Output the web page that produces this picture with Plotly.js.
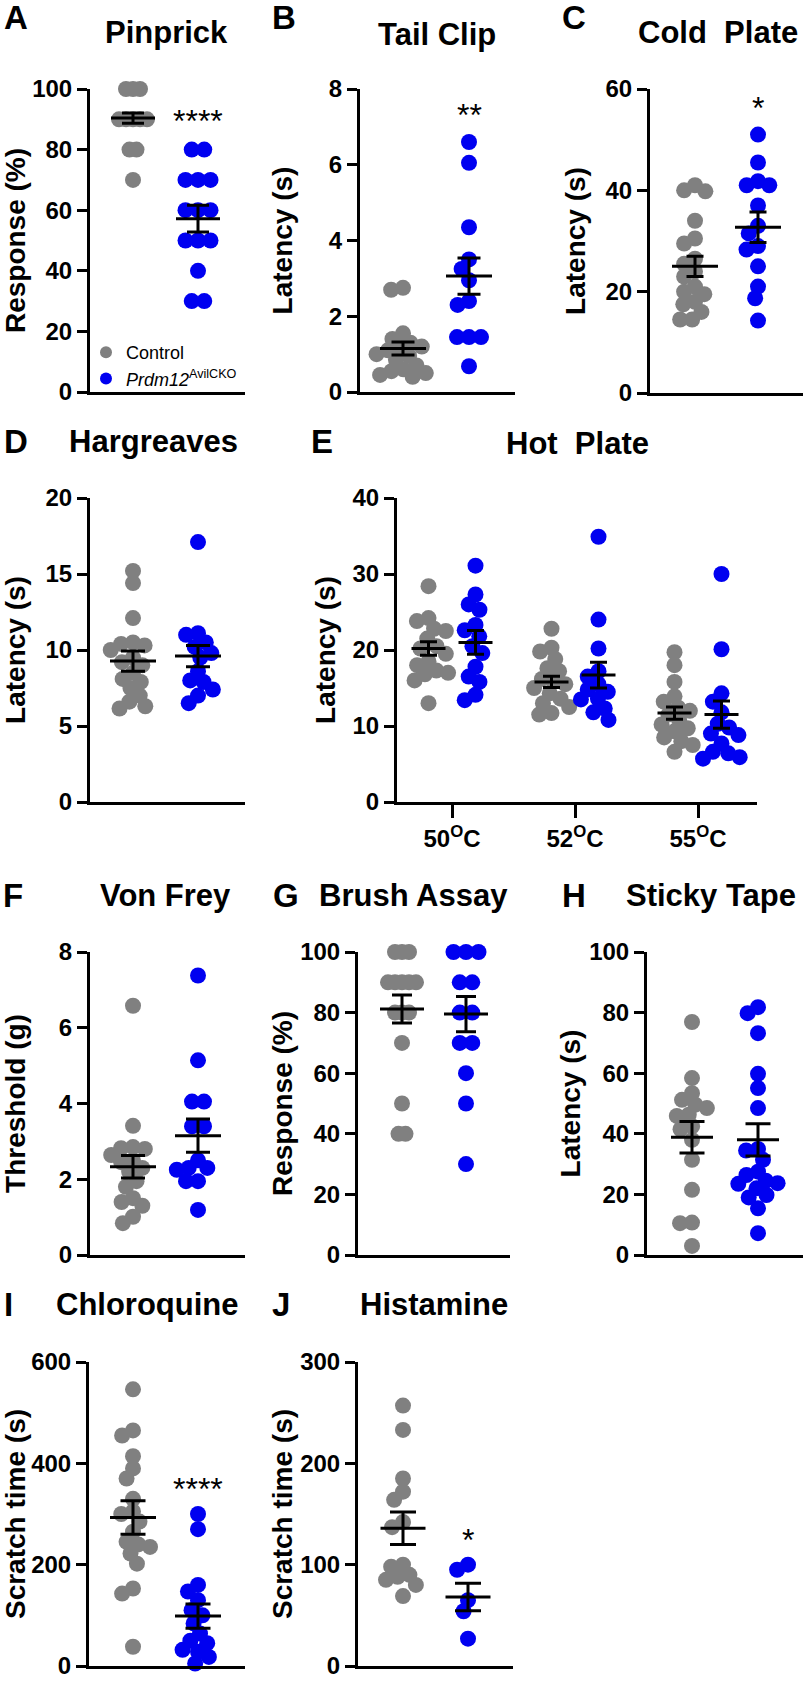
<!DOCTYPE html>
<html>
<head>
<meta charset="utf-8">
<script src="https://cdn.plot.ly/plotly-3.0.1.min.js"></script>
<style>html,body{margin:0;padding:0;background:#fff;}</style>
</head>
<body>
<div id="chart" style="width:803px;height:1686px;"></div>
<script>
// ---------------- DATA ----------------
const groupLabels = ['Control', '<i>Prdm12</i><sup>AvilCKO</sup>'];

// A  Pinprick  (Response %)
const pinprickControl = [100,100,100,90,90,90,90,90,80,80,70];
const pinprickCKO     = [80,80,70,70,70,60,60,60,50,50,50,40,30,30];
const pinprickMean    = [90.4, 57.2];
const pinprickSem     = [1.7, 4.4];

// B  Tail Clip  (Latency s)
const tailClipControl = [2.75,2.7,1.55,1.4,1.3,1.2,1.15,1.1,1.0,0.95,0.85,0.7,0.6,0.55,0.5,0.45,0.4];
const tailClipCKO     = [6.6,6.05,4.35,3.5,3.25,2.95,2.4,2.3,1.45,1.45,1.45,0.68];
const tailClipMean    = [1.15, 3.06];
const tailClipSem     = [0.17, 0.48];

// C  Cold Plate  (Latency s)
const coldPlateControl = [41,40,39.8,34,30.5,29.5,26.5,25.5,24,23,21,20,19.5,18,17.5,16,14.5,14.5];
const coldPlateCKO     = [51,45.5,41.8,41,41,37,33,31.5,29,28.3,25,21,18.7,14.3];
const coldPlateMean    = [25.0, 32.7];
const coldPlateSem     = [2.0, 3.0];

// D  Hargreaves  (Latency s)
const hargreavesControl = [15.2,14.4,12.1,10.5,10.4,10.3,10.0,9.5,9.2,9.0,8.5,8.1,7.9,7.5,7.0,6.6,6.3,6.15];
const hargreavesCKO     = [17.1,11.1,11.0,10.5,10.2,9.8,9.5,8.6,8.0,7.9,7.4,7.0,6.5];
const hargreavesMean    = [9.27, 9.6];
const hargreavesSem     = [0.66, 0.7];

// E  Hot Plate  (Latency s)
const hotPlateTemps = ['50<sup>O</sup>C', '52<sup>O</sup>C', '55<sup>O</sup>C'];
const hotPlate50Control = [28.4,24.2,23.8,22.8,22.5,21.5,20.5,20.2,19.5,18.5,18.0,17.3,17.0,16.8,16.0,13.0];
const hotPlate50CKO     = [31.1,27.3,26.0,25.3,23.3,22.6,21.8,20.5,19.6,17.8,16.5,15.8,14.1,13.4];
const hotPlate52Control = [22.8,20.3,19.8,18.8,17.6,17.2,16.2,15.8,15.5,15.0,14.3,13.6,13.0,12.5,11.7,11.5];
const hotPlate52CKO     = [34.9,24.0,20.2,17.2,16.5,15.5,14.8,14.5,13.6,13.5,12.3,11.8,10.8];
const hotPlate55Control = [19.7,18.0,15.8,13.9,13.2,12.4,12.0,11.5,10.8,10.2,9.7,9.3,8.5,8.0,7.5,6.6];
const hotPlate55CKO     = [30.0,20.1,14.3,13.2,11.8,10.3,9.8,9.0,8.8,7.7,6.6,6.4,5.9,5.7];
const hotPlateControlMean = [20.2, 15.8, 11.7];
const hotPlateControlSem  = [0.9, 0.75, 0.8];
const hotPlateCKOMean     = [21.0, 16.7, 11.5];
const hotPlateCKOSem      = [1.55, 1.7, 1.8];

// F  Von Frey  (Threshold g)
const vonFreyControl = [6.58,3.41,2.85,2.82,2.8,2.64,2.5,2.45,2.3,2.2,1.95,1.8,1.5,1.4,1.3,1.01,0.84];
const vonFreyCKO     = [7.38,5.14,4.05,4.05,3.4,3.4,2.5,2.3,2.3,2.25,1.95,1.95,1.19];
const vonFreyMean    = [2.33, 3.15];
const vonFreySem     = [0.3, 0.44];

// G  Brush Assay  (Response %)
const brushControl = [100,100,100,90,90,90,90,90,80,80,80,70,50,40,40];
const brushCKO     = [100,100,100,90,90,80,80,70,70,60,50,30];
const brushMean    = [81.2, 79.5];
const brushSem     = [4.6, 5.8];

// H  Sticky Tape  (Latency s)
const stickyControl = [76.9,58.4,53.4,51.2,49.6,48.5,46.3,45.9,42.5,41.5,38,31.4,21.5,10.7,10.5,3.0];
const stickyCKO     = [81.8,79.8,73.2,59.8,55.1,48.5,35,34.5,31.4,27.5,26.4,24.5,23.7,23.5,22,19.8,19,15.4,7.2];
const stickyMean    = [38.9, 38.0];
const stickySem     = [5.2, 5.3];

// I  Chloroquine  (Scratch time s)
const chloroquineControl = [546,465,455,414,390,370,330,305,300,285,265,245,240,235,222,202,153,143,38];
const chloroquineCKO     = [300,270,160,147,130,110,100,84,64,50,45,32,28,18,5];
const chloroquineMean    = [293, 98.6];
const chloroquineSem     = [33, 24];

// J  Histamine  (Scratch time s)
const histamineControl = [257,233,185,172,164,142,137,100,98,90,88,85,80,69];
const histamineCKO     = [100,95,65,54,27];
const histamineMean    = [136, 68];
const histamineSem     = [16, 13.6];

// ---------------- STYLE / LAYOUT ----------------
const W = 803, H = 1686;
const FONT = 'Liberation Sans, Arial, Helvetica, sans-serif';
const GRAY = '#808080', BLUE = '#0000f0';
const DOT = 16;

function swarm(vals, ppu, dmin) {
  const n = vals.length;
  const order = vals.map((v, i) => i).sort((a, b) => vals[b] - vals[a]);
  const placed = [];
  const out = new Array(n).fill(0);
  for (const i of order) {
    const y = vals[i] * ppu;
    const cands = [0];
    for (const p of placed) {
      const dy = Math.abs(p.y - y);
      if (dy < dmin) {
        const w = Math.sqrt(dmin * dmin - dy * dy);
        cands.push(p.x + w, p.x - w);
      }
    }
    cands.sort((a, b) => (Math.abs(a) - Math.abs(b)) || (a - b));
    let chosen = 0;
    for (const c of cands) {
      if (placed.every(p => (p.x - c) ** 2 + (p.y - y) ** 2 >= dmin * dmin - 0.01)) { chosen = c; break; }
    }
    out[i] = chosen;
    placed.push({x: chosen, y: y});
  }
  const groups = {};
  vals.forEach((v, i) => { (groups[v] = groups[v] || []).push(i); });
  Object.keys(groups).forEach(key => {
    const idx = groups[key];
    if (idx.length < 2) return;
    const v = +key;
    const isolated = vals.every(w => w === v || Math.abs(w - v) * ppu >= dmin);
    if (!isolated) return;
    const m = idx.reduce((s, j) => s + out[j], 0) / idx.length;
    idx.forEach(j => { out[j] -= m; });
  });
  return out;
}

const traces = [];
const layout = {
  width: W, height: H,
  margin: {l: 0, r: 0, t: 0, b: 0},
  paper_bgcolor: '#fff', plot_bgcolor: 'rgba(0,0,0,0)',
  showlegend: true,
  legend: {
    x: 86 / W, xanchor: 'left', y: 1 - 334 / H, yanchor: 'top',
    font: {family: FONT, size: 18, color: '#000'},
    bgcolor: 'rgba(0,0,0,0)', itemsizing: 'constant', tracegroupgap: 0, traceorder: 'normal'
  },
  annotations: []
};

function dotTrace(vals, xc, color, ppu, ppx, dmin, xr, yr, name, showlegend) {
  const offs = swarm(vals, ppu, dmin);
  return {
    type: 'scatter', mode: 'markers', name: name, showlegend: showlegend,
    x: offs.map(o => xc + o / ppx), y: vals,
    marker: {size: DOT, color: color, line: {width: 0}},
    xaxis: xr, yaxis: yr, cliponaxis: false, hoverinfo: 'skip'
  };
}
function meanTrace(xs, means, sems, L, cap, xr, yr) {
  return {
    type: 'scatter', mode: 'markers', showlegend: false,
    x: xs, y: means,
    marker: {symbol: 'line-ew', size: L / 1.4, color: '#000', line: {color: '#000', width: 3}},
    error_y: {type: 'data', array: sems, visible: true, color: '#000', thickness: 3, width: cap},
    xaxis: xr, yaxis: yr, cliponaxis: false, hoverinfo: 'skip'
  };
}
function textAnn(text, x, y, size, bold) {
  layout.annotations.push({
    xref: 'paper', yref: 'paper', x: x / W, y: 1 - y / H, text: text, showarrow: false,
    xanchor: 'center', yanchor: 'middle',
    font: {family: FONT, size: size, color: '#000', weight: bold ? 'bold' : 'normal'}
  });
}

function setAxes(n, p, xrange, xticks) {
  const sfx = n === 1 ? '' : String(n);
  const xr = 'x' + sfx, yr = 'y' + sfx;
  layout['xaxis' + sfx] = Object.assign({
    domain: [p.l / W, Math.min(p.r / W, 1)], range: xrange, anchor: yr,
    showline: true, linewidth: 3, linecolor: '#000', showgrid: false, zeroline: false,
    ticks: '', showticklabels: false, fixedrange: true
  }, xticks || {});
  layout['yaxis' + sfx] = {
    domain: [1 - p.b / H, 1 - p.t / H], range: [0, p.ymax], tick0: 0, dtick: p.dtick, anchor: xr,
    showline: true, linewidth: 3, linecolor: '#000', showgrid: false, zeroline: false,
    ticks: 'outside', ticklen: 10, tickwidth: 3, tickcolor: '#000',
    tickfont: {family: FONT, size: 24, color: '#000', weight: 'bold'},
    title: {text: p.ytitle, standoff: p.standoff, font: {family: FONT, size: 28, color: '#000', weight: 'bold'}},
    fixedrange: true
  };
  return [xr, yr];
}

const panels = [
  {letter: 'A', lx: 16, ly: 18, title: 'Pinprick', tx: 166, ty: 33, ytitle: 'Response (%)', ymax: 100, dtick: 20,
   l: 90, r: 245, t: 89, b: 392, c: 133, k: 198, standoff: 0, dC: 7, dK: 12.5, L: 44, cap: 11,
   ctrl: pinprickControl, cko: pinprickCKO, mean: pinprickMean, sem: pinprickSem, star: '****', starY: 91.7, legend: true},
  {letter: 'B', lx: 284, ly: 18, title: 'Tail Clip', tx: 437, ty: 34, ytitle: 'Latency (s)', ymax: 8, dtick: 2,
   l: 360, r: 515, t: 89, b: 392, c: 403, k: 469, standoff: 29, dC: 12, dK: 12, L: 46, cap: 11.5,
   ctrl: tailClipControl, cko: tailClipCKO, mean: tailClipMean, sem: tailClipSem, star: '**', starY: 7.5},
  {letter: 'C', lx: 574, ly: 18, title: 'Cold\u00a0 Plate', tx: 718, ty: 32, ytitle: 'Latency (s)', ymax: 60, dtick: 20,
   l: 650, r: 803, t: 89, b: 393, c: 695, k: 758, standoff: 12, dC: 12, dK: 12, L: 46, cap: 8.5,
   ctrl: coldPlateControl, cko: coldPlateCKO, mean: coldPlateMean, sem: coldPlateSem, star: '*', starY: 57.7},
  {letter: 'D', lx: 16, ly: 442, title: 'Hargreaves', tx: 153, ty: 442, ytitle: 'Latency (s)', ymax: 20, dtick: 5,
   l: 90, r: 245, t: 498, b: 802, c: 133, k: 198, standoff: 12, dC: 12, dK: 12, L: 46, cap: 12,
   ctrl: hargreavesControl, cko: hargreavesCKO, mean: hargreavesMean, sem: hargreavesSem},
  {letter: 'F', lx: 13, ly: 896, title: 'Von Frey', tx: 165, ty: 896, ytitle: 'Threshold (g)', ymax: 8, dtick: 2,
   l: 90, r: 245, t: 952, b: 1255, c: 133, k: 198, standoff: 29, dC: 12, dK: 12, L: 46, cap: 12,
   ctrl: vonFreyControl, cko: vonFreyCKO, mean: vonFreyMean, sem: vonFreySem},
  {letter: 'G', lx: 286, ly: 896, title: 'Brush Assay', tx: 414, ty: 896, ytitle: 'Response (%)', ymax: 100, dtick: 20,
   l: 358, r: 510, t: 952, b: 1255, c: 402, k: 466, standoff: 0, dC: 7, dK: 12.5, L: 44, cap: 10,
   ctrl: brushControl, cko: brushCKO, mean: brushMean, sem: brushSem},
  {letter: 'H', lx: 574, ly: 896, title: 'Sticky Tape', tx: 711, ty: 896, ytitle: 'Latency (s)', ymax: 100, dtick: 20,
   l: 647, r: 803, t: 952, b: 1255, c: 692, k: 758, standoff: 1, dC: 12, dK: 12, L: 42, cap: 12.5,
   ctrl: stickyControl, cko: stickyCKO, mean: stickyMean, sem: stickySem},
  {letter: 'I', lx: 8, ly: 1304, title: 'Chloroquine', tx: 147, ty: 1304, ytitle: 'Scratch time (s)', ymax: 600, dtick: 200,
   l: 89, r: 245, t: 1362, b: 1666, c: 133, k: 198, standoff: 1, dC: 12, dK: 12, L: 46, cap: 12.5,
   ctrl: chloroquineControl, cko: chloroquineCKO, mean: chloroquineMean, sem: chloroquineSem, star: '****', starY: 363},
  {letter: 'J', lx: 281, ly: 1304, title: 'Histamine', tx: 434, ty: 1304, ytitle: 'Scratch time (s)', ymax: 300, dtick: 100,
   l: 358, r: 513, t: 1362, b: 1666, c: 403, k: 468, standoff: 0, dC: 12, dK: 12, L: 45, cap: 13,
   ctrl: histamineControl, cko: histamineCKO, mean: histamineMean, sem: histamineSem, star: '*', starY: 131}
];

let axn = 1;
panels.forEach(p => {
  const n = axn++;
  const ppx = p.k - p.c;                 // px per x unit (Control at 1, CKO at 2)
  const ppu = (p.b - p.t) / p.ymax;      // px per y unit
  const [xr, yr] = setAxes(n, p, [1 - (p.c - p.l) / ppx, 1 + (p.r - p.c) / ppx]);
  traces.push(dotTrace(p.ctrl, 1, GRAY, ppu, ppx, p.dC, xr, yr, groupLabels[0], !!p.legend));
  traces.push(dotTrace(p.cko, 2, BLUE, ppu, ppx, p.dK, xr, yr, groupLabels[1], !!p.legend));
  traces.push(meanTrace([1, 2], p.mean, p.sem, p.L, p.cap, xr, yr));
  textAnn(p.letter, p.lx, p.ly, 33, true);
  textAnn(p.title, p.tx, p.ty, 31, true);
  if (p.star) {
    layout.annotations.push({
      xref: xr, yref: yr, x: 2, y: p.starY, text: p.star, showarrow: false,
      xanchor: 'center', yanchor: 'middle', yshift: -7,
      font: {family: FONT, size: 32, color: '#000'}
    });
  }
});

// E  Hot Plate (three temperatures)
(function () {
  const p = {ytitle: 'Latency (s)', ymax: 40, dtick: 10, l: 397, r: 757, t: 498, b: 802, standoff: 9};
  const tick1 = 452, step = 123, off = 23.5 / step;
  const n = axn++;
  const ppu = (p.b - p.t) / p.ymax;
  const cats = hotPlateTemps.map((t, i) => i + 1);
  const [xr, yr] = setAxes(n, p, [1 - (tick1 - p.l) / step, 3 + (p.r - (tick1 + 2 * step)) / step], {
    showticklabels: true, ticks: 'outside', ticklen: 13, tickwidth: 3, tickcolor: '#000',
    tickvals: cats, ticktext: hotPlateTemps,
    tickfont: {family: FONT, size: 24, color: '#000', weight: 'bold'}
  });
  const ctrlSets = [hotPlate50Control, hotPlate52Control, hotPlate55Control];
  const ckoSets = [hotPlate50CKO, hotPlate52CKO, hotPlate55CKO];
  ctrlSets.forEach((v, i) => traces.push(dotTrace(v, cats[i] - off, GRAY, ppu, step, 12, xr, yr, groupLabels[0], false)));
  ckoSets.forEach((v, i) => traces.push(dotTrace(v, cats[i] + off, BLUE, ppu, step, 12, xr, yr, groupLabels[1], false)));
  traces.push(meanTrace(cats.map(c => c - off), hotPlateControlMean, hotPlateControlSem, 34, 8.5, xr, yr));
  traces.push(meanTrace(cats.map(c => c + off), hotPlateCKOMean, hotPlateCKOSem, 34, 8.5, xr, yr));
  textAnn('E', 322, 442, 33, true);
  textAnn('Hot\u00a0 Plate', 577, 443, 31, true);
})();

Plotly.newPlot('chart', traces, layout, {staticPlot: true, displayModeBar: false});
</script>
</body>
</html>
